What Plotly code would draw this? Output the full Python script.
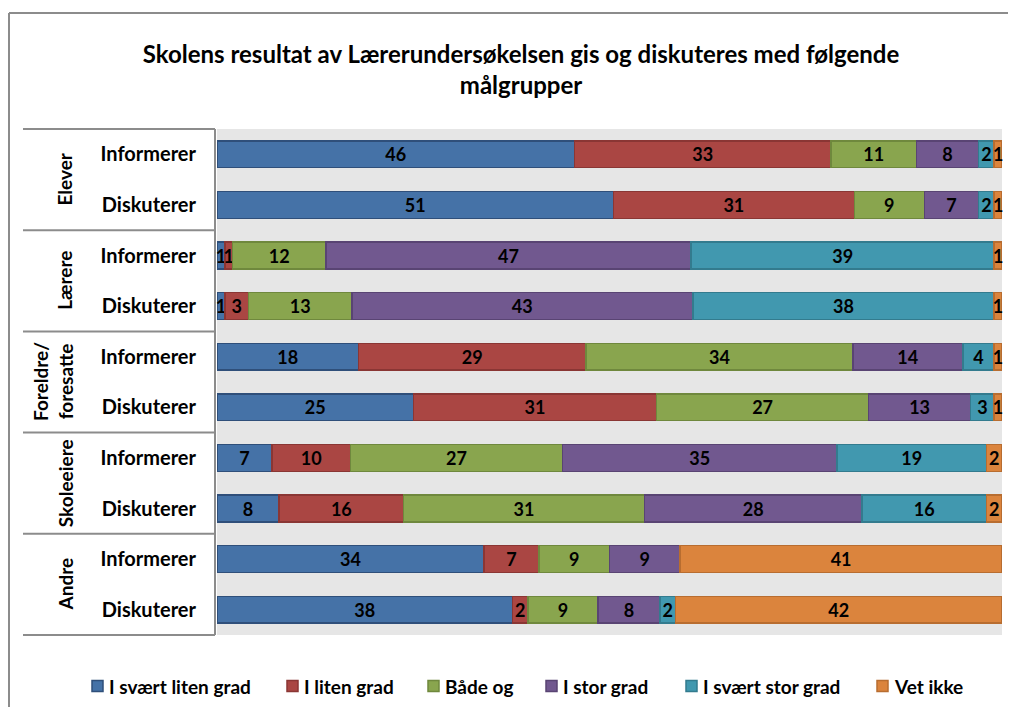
import plotly.graph_objects as go

# ---- data ----
groups = ["Elever", "Lærere", "Foreldre/<br>foresatte", "Skoleeiere", "Andre"]
rows = ["Informerer", "Diskuterer"]
series_names = ["I svært liten grad", "I liten grad", "Både og", "I stor grad",
                "I svært stor grad", "Vet ikke"]

sv_liten = [46, 51, 1, 1, 18, 25, 7, 8, 34, 38]
liten = [33, 31, 1, 3, 29, 31, 10, 16, 7, 2]
baade = [11, 9, 12, 13, 34, 27, 27, 31, 9, 9]
stor = [8, 7, 47, 43, 14, 13, 35, 28, 9, 8]
sv_stor = [2, 2, 39, 38, 4, 3, 19, 16, 0, 2]
vet_ikke = [1, 1, 1, 1, 1, 1, 2, 2, 41, 42]
series_values = [sv_liten, liten, baade, stor, sv_stor, vet_ikke]

fills = ["#4572A7", "#AA4643", "#89A54E", "#71588F", "#4198AF", "#DB843D"]
edges = ["#2F4F7A", "#8A3634", "#6F883D", "#594473", "#337B8E", "#B86D30"]

FONT = "Lato"
OFF = 8  # page body margin
W, H = 1000, 699
# plot area in window pixels: x 217..1002, y 129..635
ML, MT = 217 - OFF, 129 - OFF
MR, MB = W - (1002 - OFF), H - (635 - OFF)
PW, PH = W - ML - MR, H - MT - MB


def px(x):  # window pixel -> paper x
    return (x - OFF - ML) / PW


def py(y):  # window pixel -> paper y
    return (H - MB - (y - OFF)) / PH


row_labels = [r for _ in groups for r in rows]
ypos = list(range(len(row_labels)))

fig = go.Figure()
for name, vals, fc, ec in zip(series_names, series_values, fills, edges):
    fig.add_trace(go.Bar(
        y=ypos, x=vals, orientation="h", name=name,
        marker=dict(color=fc, line=dict(color=ec, width=1.5)),
        text=[str(v) if v else "" for v in vals],
        texttemplate="%{text}",
        textposition="inside", insidetextanchor="middle", textangle=0,
        constraintext="none", cliponaxis=False,
        textfont=dict(family=FONT, size=18, color="black", weight="bold"),
        width=0.53, hoverinfo="skip", showlegend=False,
    ))

fig.update_layout(
    width=W, height=H,
    barmode="stack", barnorm="percent",
    margin=dict(l=ML, r=MR, t=MT, b=MB),
    paper_bgcolor="white", plot_bgcolor="#E6E6E6",
    title=dict(
        text="Skolens resultat av Lærerundersøkelsen gis og diskuteres med følgende<br>målgrupper",
        x=(521 - OFF) / W, xanchor="center", xref="container",
        y=1 - (63 - OFF) / H, yanchor="middle", yref="container",
        font=dict(family=FONT, size=24, color="black", weight="bold"),
    ),
    xaxis=dict(range=[0, 100], showticklabels=False, showgrid=False,
               zeroline=False, ticks=""),
    yaxis=dict(range=[len(row_labels) - 0.5, -0.5], tickvals=ypos,
               ticktext=row_labels, showgrid=False, zeroline=False, ticks="",
               ticklabelstandoff=20,
               tickfont=dict(family=FONT, size=20, color="black", weight="bold")),
    showlegend=False,
)

shapes = []
border = "#8C8C8C"
# outer chart border (left and top)
shapes.append(dict(type="line", xref="paper", yref="paper",
                   x0=px(9), x1=px(9), y0=py(13), y1=py(730),
                   line=dict(color=border, width=2)))
shapes.append(dict(type="line", xref="paper", yref="paper",
                   x0=px(9), x1=px(1030), y0=py(13), y1=py(13),
                   line=dict(color=border, width=2)))
# category table lines
ng = len(groups)
for i in range(ng + 1):
    yy = 129 + (635 - 129) * i / ng
    shapes.append(dict(type="line", xref="paper", yref="paper",
                       x0=px(23), x1=px(215), y0=py(yy), y1=py(yy),
                       line=dict(color=border, width=2)))
shapes.append(dict(type="line", xref="paper", yref="paper",
                   x0=px(215), x1=px(215), y0=py(129), y1=py(635),
                   line=dict(color=border, width=2)))

annotations = []
for i, g in enumerate(groups):
    yc = 129 + (635 - 129) * (i + 0.5) / ng
    annotations.append(dict(
        text=g, xref="paper", yref="paper", x=px(53 if "<br>" in g else 65), y=py(yc),
        textangle=-90, showarrow=False, xanchor="center", yanchor="middle",
        font=dict(family=FONT, size=19, color="black", weight="bold")))

# legend (drawn manually to match the one-row layout)
legend_x = [92, 287, 428, 546, 686, 877]
LY = 686
for name, fc, ec, lx in zip(series_names, fills, edges, legend_x):
    shapes.append(dict(type="rect", xref="paper", yref="paper",
                       x0=px(lx), x1=px(lx + 11), y0=py(LY - 5.5), y1=py(LY + 5.5),
                       fillcolor=fc, line=dict(color=ec, width=1.5)))
    annotations.append(dict(
        text=name, xref="paper", yref="paper", x=px(lx + 15), y=py(LY),
        showarrow=False, xanchor="left", yanchor="middle",
        font=dict(family=FONT, size=19, color="black", weight="bold")))

fig.update_layout(shapes=shapes, annotations=annotations)
fig.write_html("out.html")
